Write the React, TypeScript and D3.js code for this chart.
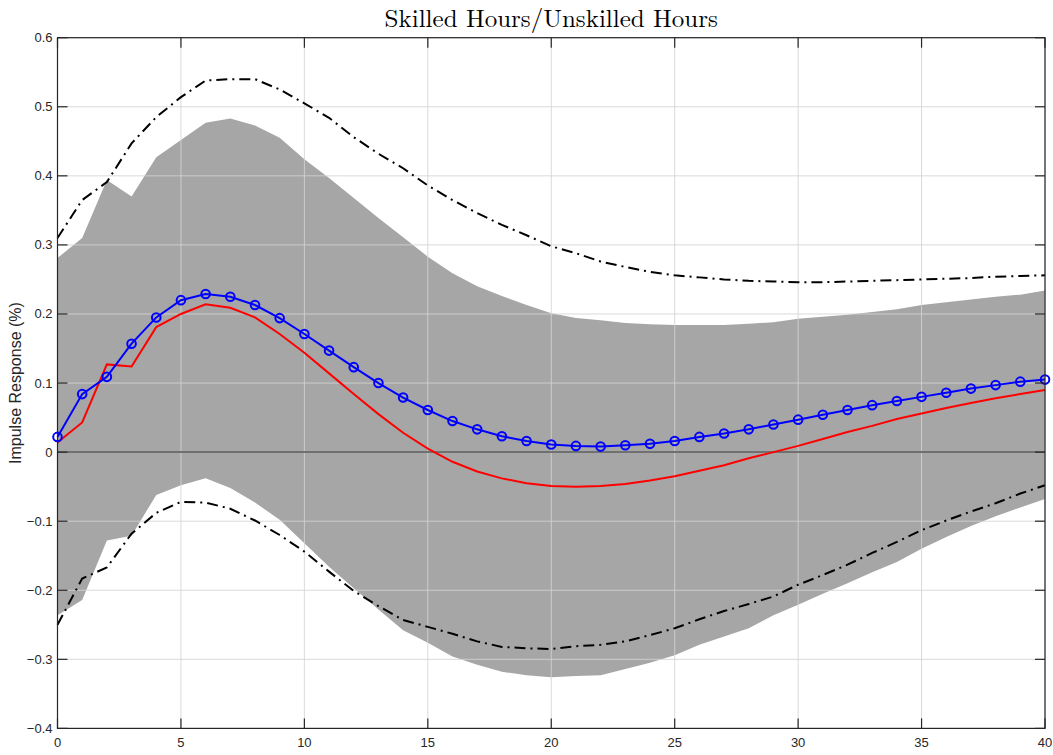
import React from "react";
import * as d3 from "d3";

const horizons = d3.range(0, 41);
const bandUpper = [0.281, 0.31, 0.394, 0.37, 0.427, 0.452, 0.477, 0.483, 0.473, 0.455, 0.424, 0.397, 0.368, 0.339, 0.311, 0.283, 0.259, 0.24, 0.226, 0.213, 0.201, 0.194, 0.191, 0.187, 0.185, 0.184, 0.184, 0.184, 0.186, 0.188, 0.193, 0.196, 0.199, 0.203, 0.207, 0.213, 0.217, 0.221, 0.225, 0.228, 0.234];
const bandLower = [-0.236, -0.214, -0.128, -0.121, -0.062, -0.048, -0.038, -0.052, -0.073, -0.098, -0.132, -0.166, -0.197, -0.228, -0.258, -0.276, -0.296, -0.308, -0.318, -0.323, -0.326, -0.324, -0.323, -0.314, -0.305, -0.294, -0.279, -0.267, -0.255, -0.236, -0.221, -0.205, -0.19, -0.174, -0.159, -0.14, -0.123, -0.107, -0.093, -0.08, -0.068];
const upperDash = [0.31, 0.365, 0.391, 0.447, 0.485, 0.514, 0.538, 0.54, 0.54, 0.525, 0.505, 0.484, 0.456, 0.432, 0.411, 0.386, 0.365, 0.346, 0.329, 0.314, 0.298, 0.288, 0.276, 0.268, 0.261, 0.256, 0.253, 0.25, 0.248, 0.247, 0.246, 0.246, 0.247, 0.248, 0.249, 0.25, 0.251, 0.252, 0.254, 0.255, 0.256];
const lowerDash = [-0.25, -0.183, -0.167, -0.118, -0.088, -0.072, -0.073, -0.082, -0.099, -0.12, -0.144, -0.173, -0.201, -0.223, -0.243, -0.253, -0.263, -0.274, -0.282, -0.284, -0.285, -0.281, -0.279, -0.274, -0.265, -0.255, -0.242, -0.23, -0.22, -0.209, -0.192, -0.178, -0.163, -0.146, -0.13, -0.113, -0.099, -0.086, -0.074, -0.06, -0.048];
const blueLine = [0.022, 0.084, 0.109, 0.157, 0.195, 0.22, 0.229, 0.225, 0.213, 0.194, 0.171, 0.147, 0.123, 0.1, 0.079, 0.061, 0.045, 0.033, 0.023, 0.016, 0.011, 0.009, 0.008, 0.01, 0.012, 0.016, 0.022, 0.027, 0.033, 0.04, 0.047, 0.054, 0.061, 0.068, 0.074, 0.08, 0.086, 0.092, 0.097, 0.102, 0.105];
const redLine = [0.014, 0.043, 0.127, 0.124, 0.181, 0.2, 0.214, 0.209, 0.195, 0.171, 0.144, 0.114, 0.084, 0.055, 0.028, 0.005, -0.014, -0.028, -0.038, -0.045, -0.049, -0.05, -0.049, -0.046, -0.041, -0.035, -0.027, -0.019, -0.009, 0.0, 0.009, 0.019, 0.029, 0.038, 0.048, 0.056, 0.064, 0.071, 0.078, 0.084, 0.09];
const xTicks = [0, 5, 10, 15, 20, 25, 30, 35, 40];
const yTicks = [-0.4, -0.3, -0.2, -0.1, 0, 0.1, 0.2, 0.3, 0.4, 0.5, 0.6];
const title = "Skilled Hours/Unskilled Hours";
const yLabel = "Impulse Response (%)";

export default function App() {
  const W = 1053, H = 755;
  const L = 57.5, R = 1045, T = 37.7, B = 728.4;
  const x = d3.scaleLinear().domain([0, 40]).range([L, R]);
  const y = d3.scaleLinear().domain([-0.4, 0.6]).range([B, T]);
  const area = d3.area<number>().x((d) => x(d)).y0((d) => y(bandLower[d])).y1((d) => y(bandUpper[d]));
  const line = (arr: number[]) => d3.line<number>().x((d) => x(d)).y((d) => y(arr[d]))(horizons) as string;
  const font = "Helvetica, Arial, 'Liberation Sans', sans-serif";
  const tick = 10;
  return (
    <svg width={W} height={H} style={{ position: "absolute", left: 0, top: 0, background: "#fff" }}>
      <rect x={0} y={0} width={W} height={H} fill="#fff" />
      <path d={area(horizons) as string} fill="#a6a6a6" stroke="none" />
      {xTicks.map((t) => (
        <line key={"gx" + t} x1={x(t)} x2={x(t)} y1={T} y2={B} stroke="#d4d4d4" strokeOpacity={0.85} strokeWidth={1} />
      ))}
      {yTicks.map((t) => (
        <line key={"gy" + t} x1={L} x2={R} y1={y(t)} y2={y(t)} stroke="#d4d4d4" strokeOpacity={0.85} strokeWidth={1} />
      ))}
      <line x1={L} x2={R} y1={y(0)} y2={y(0)} stroke="#707070" strokeWidth={2} />
      <path d={line(upperDash)} fill="none" stroke="#000" strokeWidth={2} strokeDasharray="11,5,2,5" />
      <path d={line(lowerDash)} fill="none" stroke="#000" strokeWidth={2} strokeDasharray="11,5,2,5" />
      <path d={line(redLine)} fill="none" stroke="#ff0000" strokeWidth={2} />
      <path d={line(blueLine)} fill="none" stroke="#0000ff" strokeWidth={2} />
      {horizons.map((d) => (
        <circle key={"c" + d} cx={x(d)} cy={y(blueLine[d])} r={4.3} fill="none" stroke="#0000ff" strokeWidth={2} />
      ))}
      <rect x={L} y={T} width={R - L} height={B - T} fill="none" stroke="#262626" strokeWidth={1.2} />
      {xTicks.map((t) => (
        <g key={"tx" + t}>
          <line x1={x(t)} x2={x(t)} y1={B} y2={B - tick} stroke="#262626" strokeWidth={1.2} />
          <line x1={x(t)} x2={x(t)} y1={T} y2={T + tick} stroke="#262626" strokeWidth={1.2} />
          <text x={x(t)} y={B + 19} textAnchor="middle" fontFamily={font} fontSize={13} fill="#262626">{t}</text>
        </g>
      ))}
      {yTicks.map((t) => (
        <g key={"ty" + t}>
          <line x1={L} x2={L + tick} y1={y(t)} y2={y(t)} stroke="#262626" strokeWidth={1.2} />
          <line x1={R} x2={R - tick} y1={y(t)} y2={y(t)} stroke="#262626" strokeWidth={1.2} />
          <text x={L - 5} y={y(t) + 4.5} textAnchor="end" fontFamily={font} fontSize={13} fill="#262626">{t === 0 ? "0" : d3.format(".1f")(t)}</text>
        </g>
      ))}
      <text x={17} y={(T + B) / 2} transform={`rotate(-90, 17, ${(T + B) / 2})`} textAnchor="middle" dominantBaseline="middle" fontFamily={font} fontSize={16} fill="#262626">{yLabel}</text>
      <text x={(L + R) / 2} y={27} textAnchor="middle" fontFamily="'Latin Modern Roman', 'DejaVu Serif', serif" fontSize={25} fill="#000">{title}</text>
    </svg>
  );
}
